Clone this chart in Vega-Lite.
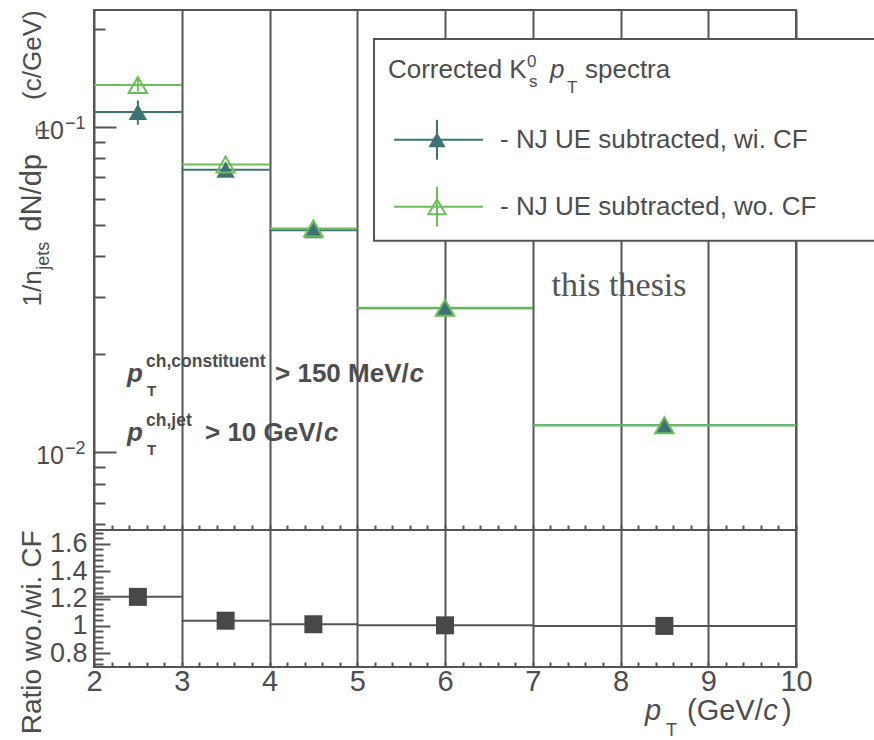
{
  "$schema": "https://vega.github.io/schema/vega-lite/v6.json",
  "autosize": {"type": "none"},
  "padding": {"left": 94, "top": 10, "right": 780, "bottom": 730},
  "background": "white",
  "config": {
    "font": "Liberation Sans",
    "view": {"stroke": "#555555", "strokeWidth": 2},
    "axis": {"domain": false, "labelColor": "#4d4d4d", "labelFont": "Liberation Sans", "tickColor": "#555555", "tickWidth": 2, "gridColor": "#555555", "gridWidth": 2, "labelFlush": false, "labelOverlap": false, "tickCount": 1000},
    "text": {"color": "#4d4d4d", "font": "Liberation Sans"}
  },
  "datasets": {
    "spectra": [
      {"lo": 2, "hi": 3, "x": 2.5, "wi": 0.111, "wi_lo": 0.1015, "wi_hi": 0.1205, "wo": 0.1345, "wo_lo": 0.1285, "wo_hi": 0.1405, "ratio": 1.212},
      {"lo": 3, "hi": 4, "x": 3.5, "wi": 0.0738, "wi_lo": 0.0723, "wi_hi": 0.0753, "wo": 0.0766, "wo_lo": 0.075, "wo_hi": 0.0782, "ratio": 1.038},
      {"lo": 4, "hi": 5, "x": 4.5, "wi": 0.0481, "wi_lo": 0.0471, "wi_hi": 0.0491, "wo": 0.0487, "wo_lo": 0.0477, "wo_hi": 0.0497, "ratio": 1.012},
      {"lo": 5, "hi": 7, "x": 6, "wi": 0.0277, "wi_lo": 0.0272, "wi_hi": 0.0282, "wo": 0.0278, "wo_lo": 0.0273, "wo_hi": 0.0283, "ratio": 1.004},
      {"lo": 7, "hi": 10, "x": 8.5, "wi": 0.0121, "wi_lo": 0.0118, "wi_hi": 0.0124, "wo": 0.0121, "wo_lo": 0.0118, "wo_hi": 0.0124, "ratio": 1.0}
    ]
  },
  "spacing": 0,
  "bounds": "flush",
  "vconcat": [
    {
      "width": 702,
      "height": 520,
      "data": {"name": "spectra"},
      "layer": [
        {
          "mark": {"type": "rule", "color": "#3e7376", "strokeWidth": 2},
          "encoding": {
            "x": {"field": "lo", "type": "quantitative", "scale": {"domain": [2, 10], "nice": false, "zero": false},
              "axis": {"orient": "bottom", "title": null, "labels": false, "grid": true, "tickCount": 1000,
                "values": [2,2.2,2.4,2.6,2.8,3,3.2,3.4,3.6,3.8,4,4.2,4.4,4.6,4.8,5,5.2,5.4,5.6,5.8,6,6.2,6.4,6.6,6.8,7,7.2,7.4,7.6,7.8,8,8.2,8.4,8.6,8.8,9,9.2,9.4,9.6,9.8,10],
                "gridOpacity": {"condition": {"test": "abs(datum.value - round(datum.value)) < 0.001", "value": 1}, "value": 0},
                "tickSize": -5}},
            "x2": {"field": "hi"},
            "y": {"field": "wi", "type": "quantitative", "scale": {"type": "log", "domain": [0.00577, 0.2286], "nice": false},
              "axis": {"orient": "left", "title": null, "grid": false, "labels": false, "tickCount": 1000,
                "values": [0.006,0.007,0.008,0.009,0.01,0.02,0.03,0.04,0.05,0.06,0.07,0.08,0.09,0.1,0.2],
                "tickSize": {"condition": {"test": "datum.value == 0.01 || datum.value == 0.1", "value": -22}, "value": -11}}}
          }
        },
        {
          "mark": {"type": "rule", "color": "#6abf5a", "strokeWidth": 2},
          "encoding": {
            "x": {"field": "lo", "type": "quantitative"},
            "x2": {"field": "hi"},
            "y": {"field": "wo", "type": "quantitative"}
          }
        },
        {
          "mark": {"type": "rule", "color": "#3e7376", "strokeWidth": 2},
          "encoding": {
            "x": {"field": "x", "type": "quantitative"},
            "y": {"field": "wi_lo", "type": "quantitative"},
            "y2": {"field": "wi_hi"}
          }
        },
        {
          "mark": {"type": "rule", "color": "#6abf5a", "strokeWidth": 2},
          "encoding": {
            "x": {"field": "x", "type": "quantitative"},
            "y": {"field": "wo_lo", "type": "quantitative"},
            "y2": {"field": "wo_hi"}
          }
        },
        {
          "mark": {"type": "point", "shape": "triangle-up", "filled": true, "size": 340, "color": "#3e7376", "opacity": 1},
          "encoding": {
            "x": {"field": "x", "type": "quantitative"},
            "y": {"field": "wi", "type": "quantitative"}
          }
        },
        {
          "mark": {"type": "point", "shape": "triangle-up", "filled": false, "size": 340, "color": "#6abf5a", "strokeWidth": 2, "opacity": 1},
          "encoding": {
            "x": {"field": "x", "type": "quantitative"},
            "y": {"field": "wo", "type": "quantitative"}
          }
        },
        {
          "data": {"values": [{}]},
          "mark": {"type": "rect", "fill": "white", "stroke": "#555555", "strokeWidth": 2},
          "encoding": {"x": {"datum": 5.191}, "x2": {"datum": 11.5}, "y": {"datum": 0.1862}, "y2": {"datum": 0.0447}}
        },
        {
          "data": {"values": [{}]},
          "mark": {"type": "text", "text": "Corrected K", "fontSize": 26, "align": "left", "baseline": "alphabetic"},
          "encoding": {"x": {"datum": 5.35}, "y": {"datum": 0.1413}}
        },
        {
          "data": {"values": [{}]},
          "mark": {"type": "text", "text": "0", "fontSize": 17, "align": "left", "baseline": "alphabetic", "dy": -11},
          "encoding": {"x": {"datum": 6.934}, "y": {"datum": 0.1413}}
        },
        {
          "data": {"values": [{}]},
          "mark": {"type": "text", "text": "s", "fontSize": 17, "align": "left", "baseline": "alphabetic", "dy": 9},
          "encoding": {"x": {"datum": 6.957}, "y": {"datum": 0.1413}}
        },
        {
          "data": {"values": [{}]},
          "mark": {"type": "text", "text": "p", "fontSize": 26, "fontStyle": "italic", "align": "left", "baseline": "alphabetic"},
          "encoding": {"x": {"datum": 7.197}, "y": {"datum": 0.1413}}
        },
        {
          "data": {"values": [{}]},
          "mark": {"type": "text", "text": "T", "fontSize": 17, "align": "left", "baseline": "alphabetic", "dy": 15},
          "encoding": {"x": {"datum": 7.39}, "y": {"datum": 0.1413}}
        },
        {
          "data": {"values": [{}]},
          "mark": {"type": "text", "text": "spectra", "fontSize": 26, "align": "left", "baseline": "alphabetic"},
          "encoding": {"x": {"datum": 7.595}, "y": {"datum": 0.1413}}
        },
        {
          "data": {"values": [{}]},
          "mark": {"type": "rule", "color": "#3e7376", "strokeWidth": 2},
          "encoding": {"x": {"datum": 5.419}, "x2": {"datum": 6.433}, "y": {"datum": 0.09123}}
        },
        {
          "data": {"values": [{}]},
          "mark": {"type": "rule", "color": "#3e7376", "strokeWidth": 2},
          "encoding": {"x": {"datum": 5.909}, "y": {"datum": 0.1051}, "y2": {"datum": 0.07924}}
        },
        {
          "data": {"values": [{}]},
          "mark": {"type": "point", "shape": "triangle-up", "filled": true, "size": 300, "color": "#3e7376", "opacity": 1},
          "encoding": {"x": {"datum": 5.909}, "y": {"datum": 0.09123}}
        },
        {
          "data": {"values": [{}]},
          "mark": {"type": "text", "text": "- NJ UE subtracted, wi. CF", "fontSize": 26, "align": "left", "baseline": "alphabetic"},
          "encoding": {"x": {"datum": 6.627}, "y": {"datum": 0.08622}}
        },
        {
          "data": {"values": [{}]},
          "mark": {"type": "rule", "color": "#6abf5a", "strokeWidth": 2},
          "encoding": {"x": {"datum": 5.419}, "x2": {"datum": 6.433}, "y": {"datum": 0.05683}}
        },
        {
          "data": {"values": [{}]},
          "mark": {"type": "rule", "color": "#6abf5a", "strokeWidth": 2},
          "encoding": {"x": {"datum": 5.909}, "y": {"datum": 0.06546}, "y2": {"datum": 0.04935}}
        },
        {
          "data": {"values": [{}]},
          "mark": {"type": "point", "shape": "triangle-up", "filled": false, "size": 300, "color": "#6abf5a", "strokeWidth": 2, "opacity": 1},
          "encoding": {"x": {"datum": 5.909}, "y": {"datum": 0.05683}}
        },
        {
          "data": {"values": [{}]},
          "mark": {"type": "text", "text": "- NJ UE subtracted, wo. CF", "fontSize": 26, "align": "left", "baseline": "alphabetic"},
          "encoding": {"x": {"datum": 6.627}, "y": {"datum": 0.05371}}
        },
        {
          "data": {"values": [{}]},
          "mark": {"type": "text", "text": "this thesis", "font": "Liberation Serif", "fontSize": 34, "color": "#555555", "align": "center", "baseline": "alphabetic"},
          "encoding": {"x": {"datum": 7.983}, "y": {"datum": 0.03031}}
        },
        {
          "data": {"values": [{}]},
          "mark": {"type": "text", "text": "p", "fontSize": 26, "fontWeight": "bold", "fontStyle": "italic", "align": "left", "baseline": "alphabetic"},
          "encoding": {"x": {"datum": 2.376}, "y": {"datum": 0.0164}}
        },
        {
          "data": {"values": [{}]},
          "mark": {"type": "text", "text": "ch,constituent", "fontSize": 17.5, "fontWeight": "bold", "align": "left", "baseline": "alphabetic", "dy": -15},
          "encoding": {"x": {"datum": 2.593}, "y": {"datum": 0.0164}}
        },
        {
          "data": {"values": [{}]},
          "mark": {"type": "text", "text": "T", "fontSize": 15, "fontWeight": "bold", "align": "left", "baseline": "alphabetic", "dy": 14},
          "encoding": {"x": {"datum": 2.604}, "y": {"datum": 0.0164}}
        },
        {
          "data": {"values": [{}]},
          "mark": {"type": "text", "text": "> 150 MeV/", "fontSize": 26, "fontWeight": "bold", "align": "left", "baseline": "alphabetic"},
          "encoding": {"x": {"datum": 4.063}, "y": {"datum": 0.0164}}
        },
        {
          "data": {"values": [{}]},
          "mark": {"type": "text", "text": "c", "fontSize": 26, "fontWeight": "bold", "fontStyle": "italic", "align": "left", "baseline": "alphabetic"},
          "encoding": {"x": {"datum": 5.595}, "y": {"datum": 0.0164}}
        },
        {
          "data": {"values": [{}]},
          "mark": {"type": "text", "text": "p", "fontSize": 26, "fontWeight": "bold", "fontStyle": "italic", "align": "left", "baseline": "alphabetic"},
          "encoding": {"x": {"datum": 2.376}, "y": {"datum": 0.0108}}
        },
        {
          "data": {"values": [{}]},
          "mark": {"type": "text", "text": "ch,jet", "fontSize": 17.5, "fontWeight": "bold", "align": "left", "baseline": "alphabetic", "dy": -15},
          "encoding": {"x": {"datum": 2.593}, "y": {"datum": 0.0108}}
        },
        {
          "data": {"values": [{}]},
          "mark": {"type": "text", "text": "T", "fontSize": 15, "fontWeight": "bold", "align": "left", "baseline": "alphabetic", "dy": 14},
          "encoding": {"x": {"datum": 2.604}, "y": {"datum": 0.0108}}
        },
        {
          "data": {"values": [{}]},
          "mark": {"type": "text", "text": "> 10 GeV/", "fontSize": 26, "fontWeight": "bold", "align": "left", "baseline": "alphabetic"},
          "encoding": {"x": {"datum": 3.265}, "y": {"datum": 0.0108}}
        },
        {
          "data": {"values": [{}]},
          "mark": {"type": "text", "text": "c", "fontSize": 26, "fontWeight": "bold", "fontStyle": "italic", "align": "left", "baseline": "alphabetic"},
          "encoding": {"x": {"datum": 4.62}, "y": {"datum": 0.0108}}
        },
        {
          "data": {"values": [{}]},
          "mark": {"type": "text", "text": "10", "fontSize": 25, "align": "right", "baseline": "alphabetic", "dy": 12},
          "encoding": {"x": {"datum": 1.658}, "y": {"datum": 0.1}}
        },
        {
          "data": {"values": [{}]},
          "mark": {"type": "text", "text": "−1", "fontSize": 18, "align": "left", "baseline": "alphabetic", "dy": 2},
          "encoding": {"x": {"datum": 1.67}, "y": {"datum": 0.1}}
        },
        {
          "data": {"values": [{}]},
          "mark": {"type": "text", "text": "10", "fontSize": 25, "align": "right", "baseline": "alphabetic", "dy": 12},
          "encoding": {"x": {"datum": 1.658}, "y": {"datum": 0.01}}
        },
        {
          "data": {"values": [{}]},
          "mark": {"type": "text", "text": "−2", "fontSize": 18, "align": "left", "baseline": "alphabetic", "dy": 2},
          "encoding": {"x": {"datum": 1.67}, "y": {"datum": 0.01}}
        },
        {
          "data": {"values": [{}]},
          "mark": {"type": "text", "text": "1/n", "fontSize": 26, "angle": 270, "align": "left", "baseline": "alphabetic"},
          "encoding": {"x": {"datum": 1.396}, "y": {"datum": 0.02805}}
        },
        {
          "data": {"values": [{}]},
          "mark": {"type": "text", "text": "jets", "fontSize": 18, "angle": 270, "align": "left", "baseline": "alphabetic", "dy": 8},
          "encoding": {"x": {"datum": 1.396}, "y": {"datum": 0.03641}}
        },
        {
          "data": {"values": [{}]},
          "mark": {"type": "text", "text": "dN/dp", "fontSize": 29, "angle": 270, "align": "left", "baseline": "alphabetic"},
          "encoding": {"x": {"datum": 1.396}, "y": {"datum": 0.0477}}
        },
        {
          "data": {"values": [{}]},
          "mark": {"type": "text", "text": "T", "fontSize": 18, "angle": 270, "align": "left", "baseline": "alphabetic", "dy": 8},
          "encoding": {"x": {"datum": 1.396}, "y": {"datum": 0.0938}}
        },
        {
          "data": {"values": [{}]},
          "mark": {"type": "text", "text": "(c/GeV)", "fontSize": 26, "angle": 270, "align": "left", "baseline": "alphabetic"},
          "encoding": {"x": {"datum": 1.396}, "y": {"datum": 0.121}}
        }
      ]
    },
    {
      "width": 702,
      "height": 137,
      "data": {"name": "spectra"},
      "layer": [
        {
          "mark": {"type": "rule", "color": "#555555", "strokeWidth": 2},
          "encoding": {
            "x": {"field": "lo", "type": "quantitative", "scale": {"domain": [2, 10], "nice": false, "zero": false},
              "axis": {"orient": "bottom", "title": null, "grid": true, "tickCount": 1000,
                "values": [2,2.2,2.4,2.6,2.8,3,3.2,3.4,3.6,3.8,4,4.2,4.4,4.6,4.8,5,5.2,5.4,5.6,5.8,6,6.2,6.4,6.6,6.8,7,7.2,7.4,7.6,7.8,8,8.2,8.4,8.6,8.8,9,9.2,9.4,9.6,9.8,10],
                "gridOpacity": {"condition": {"test": "abs(datum.value - round(datum.value)) < 0.001", "value": 1}, "value": 0},
                "labelExpr": "abs(datum.value - round(datum.value)) < 0.001 ? format(datum.value, 'd') : ''",
                "labelFontSize": 29, "labelPadding": 5, "labelBaseline": "top",
                "tickSize": -5}},
            "x2": {"field": "hi"},
            "y": {"field": "ratio", "type": "quantitative", "scale": {"domain": [0.7, 1.7], "nice": false, "zero": false},
              "axis": {"orient": "left", "grid": false, "title": "Ratio wo./wi. CF", "titleFontSize": 28, "titleFontWeight": "normal", "titleColor": "#4d4d4d", "titleAnchor": "end", "titlePadding": 3, "tickCount": 1000,
                "values": [0.72,0.76,0.8,0.84,0.88,0.92,0.96,1,1.04,1.08,1.12,1.16,1.2,1.24,1.28,1.32,1.36,1.4,1.44,1.48,1.52,1.56,1.6,1.64,1.68],
                "labelExpr": "abs(datum.value*5 - round(datum.value*5)) < 0.001 ? format(datum.value, '.1~f') : ''",
                "labelFontSize": 27, "labelPadding": 23,
                "tickSize": {"condition": {"test": "abs(datum.value*5 - round(datum.value*5)) < 0.001", "value": -16}, "value": -9}}}
          }
        },
        {
          "mark": {"type": "point", "shape": "square", "filled": true, "size": 324, "color": "#484848", "opacity": 1},
          "encoding": {
            "x": {"field": "x", "type": "quantitative"},
            "y": {"field": "ratio", "type": "quantitative"}
          }
        },
        {
          "data": {"values": [{}]},
          "mark": {"type": "text", "text": "p", "fontSize": 29, "fontStyle": "italic", "align": "left", "baseline": "alphabetic"},
          "encoding": {"x": {"datum": 8.279}, "y": {"datum": 0.3131}}
        },
        {
          "data": {"values": [{}]},
          "mark": {"type": "text", "text": "T", "fontSize": 18, "align": "left", "baseline": "alphabetic", "dy": 16},
          "encoding": {"x": {"datum": 8.519}, "y": {"datum": 0.3131}}
        },
        {
          "data": {"values": [{}]},
          "mark": {"type": "text", "text": "(GeV/", "fontSize": 29, "align": "left", "baseline": "alphabetic"},
          "encoding": {"x": {"datum": 8.758}, "y": {"datum": 0.3131}}
        },
        {
          "data": {"values": [{}]},
          "mark": {"type": "text", "text": "c", "fontSize": 29, "fontStyle": "italic", "align": "left", "baseline": "alphabetic"},
          "encoding": {"x": {"datum": 9.626}, "y": {"datum": 0.3131}}
        },
        {
          "data": {"values": [{}]},
          "mark": {"type": "text", "text": ")", "fontSize": 29, "align": "left", "baseline": "alphabetic"},
          "encoding": {"x": {"datum": 9.84}, "y": {"datum": 0.3131}}
        }
      ]
    }
  ]
}
